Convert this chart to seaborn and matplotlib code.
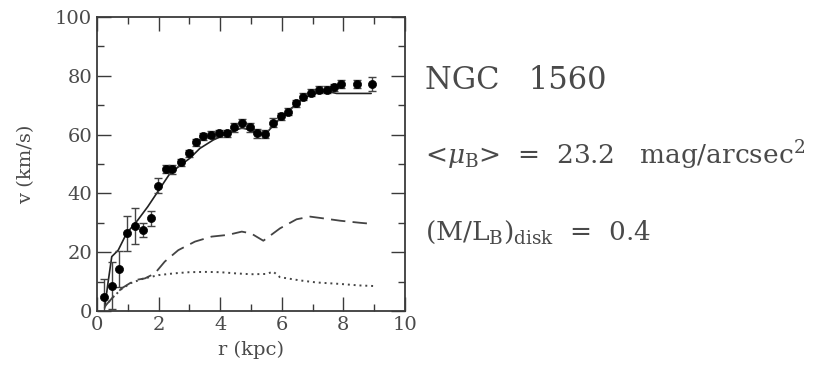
import matplotlib
matplotlib.use("Agg")
import matplotlib.pyplot as plt
import seaborn as sns
from matplotlib.ticker import MultipleLocator

# observed rotation curve
obs_r = [0.24, 0.48, 0.72, 0.97, 1.23, 1.5, 1.74, 1.99, 2.23, 2.45, 2.73, 2.99,
         3.21, 3.45, 3.71, 3.97, 4.21, 4.45, 4.7, 4.97, 5.2, 5.45, 5.7, 5.96,
         6.21, 6.45, 6.7, 6.95, 7.2, 7.46, 7.69, 7.92, 8.43, 8.94]
obs_v = [4.9, 8.6, 14.3, 26.4, 28.9, 27.5, 31.5, 42.6, 48.3, 48.2, 50.6, 53.6,
         57.4, 59.5, 59.9, 60.4, 60.4, 62.5, 63.8, 62.5, 60.4, 60.2, 64.0, 66.3,
         67.8, 70.6, 72.9, 74.3, 75.2, 75.2, 76.1, 77.2, 77.2, 77.2]
obs_err = [6, 8, 6, 6, 6, 2.5, 2.5, 2.5, 1.5, 1.5, 1.2, 1.2, 1.2, 1.2, 1.2, 1.2,
           1.2, 1.5, 1.5, 1.5, 1.5, 1.5, 1.5, 1.2, 1.2, 1.2, 1.2, 1.2, 1.2, 1.2,
           1.2, 1.5, 1.5, 2.5]

# total model fit (solid)
tot_r = [0.25, 0.35, 0.48, 0.69, 0.96, 1.33, 1.65, 2.0, 2.37, 2.7, 3.02, 3.34,
         3.78, 4.25, 4.7, 5.0, 5.3, 5.5, 5.8, 6.2, 6.7, 7.0, 7.46, 7.78, 8.1, 8.6, 8.9]
tot_v = [1, 9, 18.5, 20.7, 26.4, 31, 35.5, 41, 46.8, 49.5, 52, 55.3,
         58.2, 60.4, 62.3, 61.5, 60.0, 60.5, 64, 68, 72.3, 73.8, 74.7, 74, 74, 74, 74]

# gas contribution (dashed)
gas_r = [0.25, 0.5, 0.8, 1.23, 1.56, 1.88, 2.2, 2.64, 3.18, 3.72, 4.26, 4.7,
         5.0, 5.4, 5.94, 6.48, 6.92, 7.35, 7.9, 8.54, 8.97]
gas_v = [1.5, 4.5, 7.7, 10.5, 11.1, 12.8, 16.8, 20.7, 23.6, 25.3, 25.9, 27.0,
         26.4, 23.9, 28.1, 31.2, 32.1, 31.5, 30.7, 30.0, 29.6]

# stellar disk contribution (dotted)
disk_r = [0.25, 0.5, 0.8, 1.1, 1.5, 2.0, 2.5, 3.0, 3.5, 4.0, 4.5, 5.0, 5.5,
          5.72, 5.94, 6.59, 7.13, 7.9, 8.5, 8.97]
disk_v = [1.5, 4.5, 7.5, 9.5, 11.0, 12.2, 12.8, 13.2, 13.3, 13.2, 12.8, 12.5,
          12.6, 13.4, 11.5, 10.4, 9.7, 9.2, 8.7, 8.5]

x_ticks = [0, 2, 4, 6, 8, 10]
y_ticks = [0, 20, 40, 60, 80, 100]

sns.set_style("ticks")
plt.rcParams['font.family'] = ['DejaVu Serif']
plt.rcParams['mathtext.fontset'] = 'dejavuserif'

grey = "#3a3a3a"
lgrey = "#4a4a4a"
fig = plt.figure(figsize=(8.31, 3.67), dpi=100)
ax = fig.add_axes([0.1167, 0.1526, 0.3707, 0.8011])

sns.lineplot(x=tot_r, y=tot_v, ax=ax, color="#222222", lw=1.2, sort=False)
sns.lineplot(x=gas_r, y=gas_v, ax=ax, color="#444444", lw=1.3, sort=False,
             linestyle=(0, (8, 4)))
sns.lineplot(x=disk_r, y=disk_v, ax=ax, color="#444444", lw=1.4, sort=False,
             linestyle=(0, (1.0, 2.0)))
ax.errorbar(obs_r, obs_v, yerr=obs_err, fmt='none', ecolor="#444444",
            elinewidth=1.0, capsize=3, capthick=1.0)
sns.scatterplot(x=obs_r, y=obs_v, ax=ax, color="black", s=34, edgecolor="black",
                linewidth=0.5, zorder=5)

ax.set_xlim(0, 10)
ax.set_ylim(0, 100)
ax.set_xticks(x_ticks)
ax.set_yticks(y_ticks)
ax.xaxis.set_minor_locator(MultipleLocator(1))
ax.yaxis.set_minor_locator(MultipleLocator(10))
ax.tick_params(which="both", direction="in", top=True, right=True,
               color=grey, width=1.0, labelsize=14, labelcolor=lgrey)
ax.tick_params(which="major", length=10)
ax.tick_params(which="minor", length=5)
for s in ax.spines.values():
    s.set_visible(True)
    s.set_color(grey)
    s.set_linewidth(1.3)
ax.set_xlabel("r (kpc)", fontsize=14, color=lgrey, labelpad=5)
ax.set_ylabel("v (km/s)", fontsize=14, color=lgrey, labelpad=14)

fig.text(0.511, 0.782, "NGC   1560", fontsize=22, color=lgrey, va="center")
fig.text(0.511, 0.578, r"<$\mu_{\rm B}$>  =  23.2   mag/arcsec$^2$", fontsize=19,
         color=lgrey, va="center")
fig.text(0.511, 0.368, r"(M/L$_{\rm B}$)$_{\rm disk}$  =  0.4", fontsize=19,
         color=lgrey, va="center")

fig.savefig("out.png", dpi=100)
